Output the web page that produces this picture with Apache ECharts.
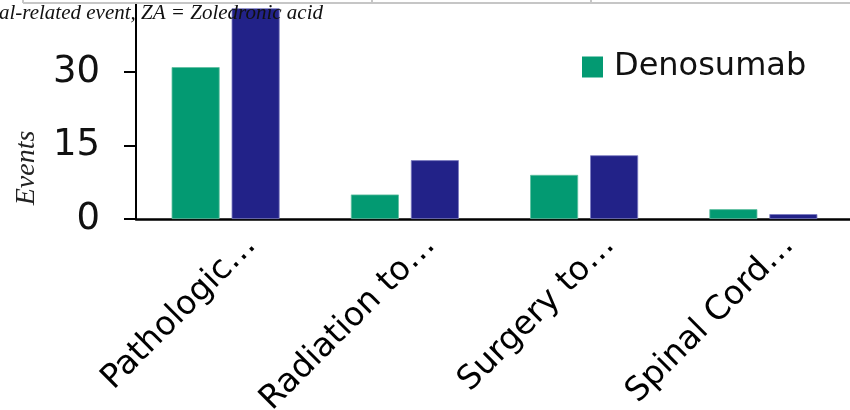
<!DOCTYPE html>
<html>
<head>
<meta charset="utf-8">
<script src="https://cdn.jsdelivr.net/npm/echarts@6/dist/echarts.min.js"></script>
<style>
html,body{margin:0;padding:0;background:#fff;}
#chart{width:850px;height:410px;}
</style>
</head>
<body>
<div id="chart"></div>
<script>
var categories = ['Pathologic…', 'Radiation to…', 'Surgery to…', 'Spinal Cord…'];
var denosumab = [31, 5, 9, 2];
var zoledronic = [43, 12, 13, 1];
var yTicks = [0, 15, 30];
var seriesNames = ['Denosumab', 'ZA'];
var noteText = 'SRE = skeletal-related event, ZA = Zoledronic acid';
var axisTitle = 'Events';

var chart = echarts.init(document.getElementById('chart'), null, {renderer: 'canvas'});
chart.setOption({
  animation: false,
  backgroundColor: '#ffffff',
  textStyle: {fontFamily: 'DejaVu Sans'},
  grid: {left: 136, top: -1.5, width: 717, height: 220.5, containLabel: false, outerBoundsMode: 'none'},
  legend: {
    data: [seriesNames[0]],
    left: 577, top: 46,
    icon: 'rect', itemWidth: 21, itemHeight: 21, itemGap: 10,
    itemStyle: {borderWidth: 0},
    textStyle: {fontSize: 32, color: '#111', fontFamily: 'DejaVu Sans', padding: [0, 0, 0, 6]}
  },
  xAxis: {
    type: 'category', data: categories,
    axisLine: {lineStyle: {color: '#000', width: 2.5}},
    axisTick: {show: false},
    axisLabel: {rotate: 45, fontSize: 33, color: '#000', margin: -4, interval: 0,
      fontFamily: 'DejaVu Sans', verticalAlign: 'top', lineHeight: 72}
  },
  yAxis: {
    type: 'value', min: 0, max: 45, interval: 15,
    axisLine: {show: true, lineStyle: {color: '#000', width: 2}},
    axisTick: {show: true, length: 12, lineStyle: {color: '#000', width: 2}},
    splitLine: {show: false},
    axisLabel: {
      fontSize: 37, color: '#111', margin: 36, fontFamily: 'DejaVu Sans',
      formatter: function (v) { return yTicks.indexOf(v) >= 0 ? String(v) : ''; }
    }
  },
  series: [
    {name: seriesNames[0], type: 'bar', data: denosumab, barWidth: 48, barGap: '25%',
     itemStyle: {color: '#039a72', borderColor: '#5fbfa0', borderWidth: 0.8}},
    {name: seriesNames[1], type: 'bar', data: zoledronic, barWidth: 48, barGap: '25%',
     itemStyle: {color: '#222288', borderColor: '#7a7ac0', borderWidth: 0.8}}
  ],
  graphic: [
    {type: 'rect', z: 100, shape: {x: 0, y: 0, width: 850, height: 3}, style: {fill: '#fff'}},
    {type: 'line', z: 101, shape: {x1: 23, y1: 3, x2: 850, y2: 3}, style: {stroke: '#c6c6c6', lineWidth: 2}},
    {type: 'line', z: 101, shape: {x1: 23, y1: 0, x2: 23, y2: 3}, style: {stroke: '#c6c6c6', lineWidth: 2}},
    {type: 'line', z: 101, shape: {x1: 372, y1: 0, x2: 372, y2: 3}, style: {stroke: '#c6c6c6', lineWidth: 2}},
    {type: 'line', z: 101, shape: {x1: 591, y1: 0, x2: 591, y2: 3}, style: {stroke: '#c6c6c6', lineWidth: 2}},
    {type: 'text', z: 102, x: 323, y: 13.5,
     style: {text: noteText, fontFamily: 'Liberation Serif', fontStyle: 'italic', fontSize: 21, fill: '#111', textAlign: 'right', textVerticalAlign: 'middle'}},
    {type: 'text', z: 102, x: 27, y: 168, rotation: Math.PI / 2,
     style: {text: axisTitle, fontFamily: 'Liberation Serif', fontStyle: 'italic', fontSize: 28, fill: '#222', textAlign: 'center', textVerticalAlign: 'middle'}}
  ]
});
</script>
</body>
</html>
